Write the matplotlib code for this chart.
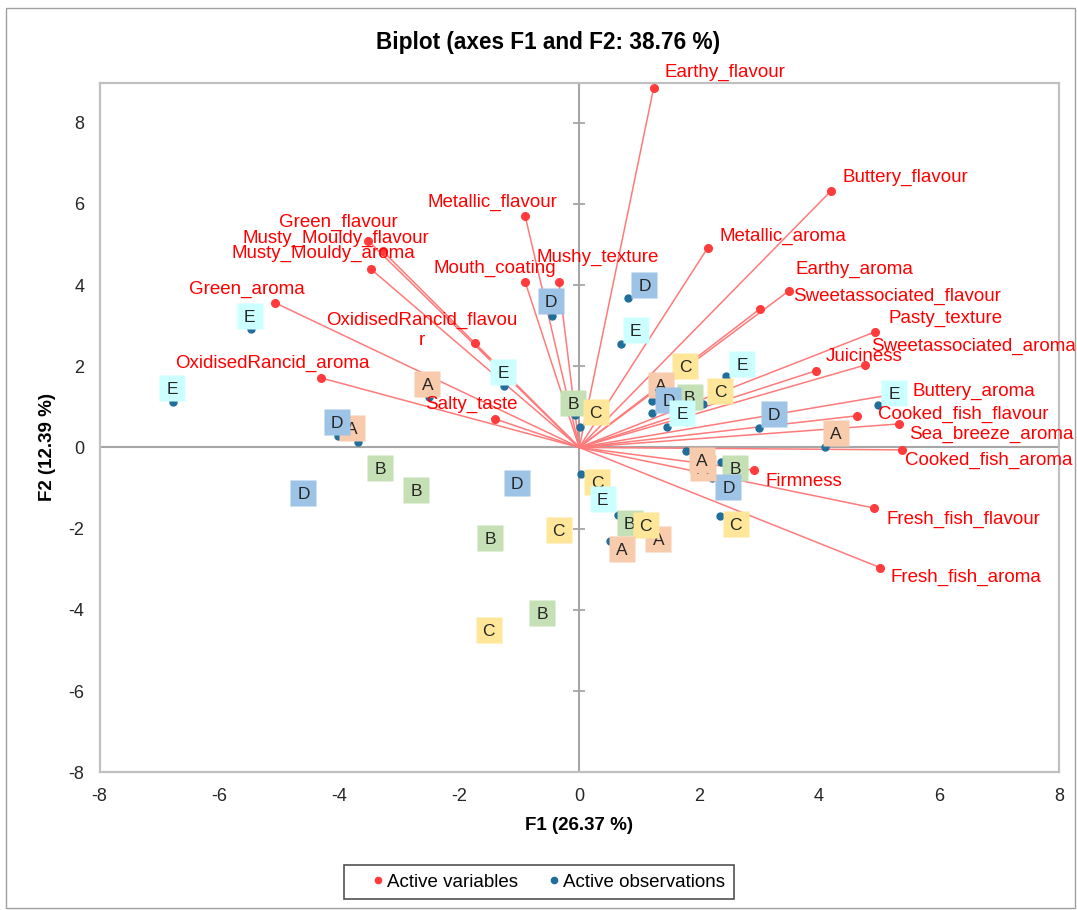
import matplotlib
matplotlib.use("Agg")
from matplotlib import pyplot as plt
from matplotlib.transforms import offset_copy
from matplotlib.patches import Rectangle
from matplotlib.lines import Line2D

plt.rcParams['font.family'] = ['Liberation Sans', 'DejaVu Sans']
plt.rcParams['axes.unicode_minus'] = False

# Active variables (coordinates on F1 / F2)
var_names = [
    "Earthy_flavour", "Buttery_flavour", "Metallic_aroma", "Earthy_aroma",
    "Sweetassociated_flavour", "Pasty_texture", "Sweetassociated_aroma",
    "Juiciness", "Buttery_aroma", "Cooked_fish_flavour", "Sea_breeze_aroma",
    "Cooked_fish_aroma", "Firmness", "Fresh_fish_flavour", "Fresh_fish_aroma",
    "Green_aroma", "OxidisedRancid_aroma", "Green_flavour",
    "Musty_Mouldy_flavour", "Musty_Mouldy_aroma", "OxidisedRancid_flavou\nr",
    "Metallic_flavour", "Mouth_coating", "Mushy_texture", "Salty_taste",
]
var_f1 = [1.24, 4.20, 2.14, 3.02, 3.49, 4.94, 4.77, 3.95, 5.29, 4.63, 5.34,
          5.38, 2.92, 4.91, 5.02, -5.07, -4.30, -3.52, -3.28, -3.48, -1.74,
          -0.90, -0.90, -0.34, -1.40]
var_f2 = [8.85, 6.32, 4.91, 3.42, 3.85, 2.85, 2.03, 1.89, 1.32, 0.78, 0.58,
          -0.06, -0.56, -1.49, -2.96, 3.56, 1.71, 5.09, 4.84, 4.40, 2.56,
          5.69, 4.07, 4.07, 0.70]

# label placement for the variables (pixels from the point)
var_dx = [11, 11, 12, 35, 5, 13, 6, 10, 16, 21, 10, 3, 11, 13, 10,
          30, 48, 30, 47, 45, -53, 32, 31, -22, 22]
var_dy = [16, 13, 12, 39, -5, 13, 19, 14, 2, 1, -11, -11, -11, -11, -10,
          13, 15, 18, 13, 15, 13, 14, 14, 25, 15]
var_ha = ["left"] * 15 + ["right"] * 5 + ["center", "right", "right",
                                           "left", "right"]

# Active observations (drawing order matters for the overlapping labels)
obs_labels = ["E", "E", "A", "D", "A", "E", "D", "B", "C", "D",
              "E", "B", "B", "D", "B", "D", "C", "C", "B", "C",
              "E", "B", "A", "C", "A", "C", "B", "D", "A", "A",
              "A", "D", "E", "E", "C", "C", "A", "B", "D", "E"]
obs_f1 = [-5.48, -6.77, -3.69, -4.03, -2.50, -1.25, -0.45, -0.07, 0.01, 0.82,
          0.69, -3.32, -2.72, -4.60, -1.49, -1.04, -0.34, -1.51, -0.62, 0.03,
          0.39, 0.64, 1.32, 1.11, 0.51, 2.34, 2.37, 2.22, 2.06, 1.78,
          4.09, 2.99, 4.99, 2.45, 2.07, 1.52, 1.21, 1.59, 1.22, 1.47]
obs_f2 = [2.92, 1.13, 0.14, 0.29, 1.25, 1.52, 3.24, 0.79, 0.51, 3.67,
          2.54, -0.51, -1.05, -1.12, -2.23, -0.88, -2.03, -4.50, -4.08, -0.65,
          -1.27, -1.66, -2.26, -1.91, -2.31, -1.69, -0.35, -0.75, -0.51, -0.08,
          0.02, 0.47, 1.04, 1.77, 1.07, 1.73, 1.15, 0.92, 0.85, 0.50]
obs_dx = [-1, -1, -6, -1, -2, -1, -1, -2, 16, 16,
          15, 0, 0, 0, 0, 0, 0, 0, 0, 16,
          0, 12, 0, 0, 12, 16, 14, 16, 0, 16,
          11, 15, 16, 16, 17, 15, 9, 15, 16, 15]
obs_dy = [13, 14, 14, 14, 13, 14, 15, 12, 15, 13,
          14, 0, 0, 0, 0, 0, 0, 0, 0, -8,
          0, -8, 0, 0, -8, -8, -6, -9, 0, -9,
          14, 14, 12, 12, 13, 11, 16, 13, 13, 14]

OBS_COLORS = {"A": "#F8CBAD", "B": "#C5E0B4", "C": "#FFE699",
              "D": "#9DC3E6", "E": "#CCFFFF"}
VAR_COLOR = "#FF3B3B"
LINE_COLOR = "#FF7A7A"
OBS_COLOR = "#1F6E9B"
GRID_GREY = "#A6A6A6"

W, H = 1077, 910
fig = plt.figure(figsize=(W / 100, H / 100), dpi=100)
ax = fig.add_axes([99.5 / W, (H - 772.3) / H, (1059 - 99.5) / W,
                   (772.3 - 83) / H])
ax.set_xlim(-8, 8)
ax.set_ylim(-8, 8.975)

ticks = list(range(-8, 9, 2))
ax.set_xticks(ticks)
ax.set_yticks(ticks)
ax.tick_params(length=0, labelsize=13, pad=11, colors="#262626")
for sp in ax.spines.values():
    sp.set_color("#C0C0C0")
    sp.set_linewidth(1.6)

# zero axes, the vertical one carries small cross ticks
ax.axhline(0, color=GRID_GREY, lw=1.5, zorder=1)
ax.axvline(0, color=GRID_GREY, lw=1.5, zorder=1)
ax.plot([0] * len(ticks), ticks, ls="none", marker="_", ms=8, mew=1.3,
        color=GRID_GREY, zorder=1)

# variable vectors
for x, y in zip(var_f1, var_f2):
    ax.plot([0, x], [0, y], color=LINE_COLOR, lw=1.1, zorder=2)
ax.plot(var_f1, var_f2, ls="none", marker="o", ms=5.5, color=VAR_COLOR,
        zorder=2.5)
for name, x, y, dx, dy, ha in zip(var_names, var_f1, var_f2, var_dx,
                                  var_dy, var_ha):
    ax.annotate(name, (x, y), xytext=(dx, dy), textcoords="offset pixels",
                ha=ha, va="center", fontsize=13.5, color="#FF0000",
                multialignment="center", zorder=6)

# observations
ax.plot(obs_f1, obs_f2, ls="none", marker="o", ms=5, color=OBS_COLOR,
        zorder=3)
for i, (lab, x, y, dx, dy) in enumerate(zip(obs_labels, obs_f1, obs_f2,
                                            obs_dx, obs_dy)):
    tr = offset_copy(ax.transData, fig=fig, x=dx, y=dy, units="dots")
    z = 4 + i * 0.01
    ax.plot([x], [y], ls="none", marker="s", ms=19, mfc=OBS_COLORS[lab],
            mec="none", transform=tr, zorder=z)
    ax.text(x, y, lab, transform=tr, ha="center", va="center_baseline",
            fontsize=12.5, color="#262626", zorder=z + 0.005)

fig.text(548 / W, 1 - 42 / H, "Biplot (axes F1 and F2: 38.76 %)",
         ha="center", va="center", fontsize=16.3, fontweight="bold")
fig.text(579 / W, 1 - 826 / H, "F1 (26.37 %)", ha="center", va="center",
         fontsize=13.5, fontweight="bold")
fig.text(47 / W, 1 - 447 / H, "F2 (12.39 %)", ha="center", va="center",
         rotation=90, fontsize=13.5, fontweight="bold")

handles = [
    Line2D([], [], ls="none", marker="o", ms=4.5, color=VAR_COLOR),
    Line2D([], [], ls="none", marker="o", ms=4.5, color=OBS_COLOR),
]
leg = fig.legend(handles, ["Active variables", "Active observations"],
                 loc="center left", bbox_to_anchor=(344 / W, 1 - 882 / H),
                 ncol=2, fontsize=13.5, frameon=True, fancybox=False,
                 edgecolor="#262626", handlelength=2.7, handletextpad=-0.85,
                 columnspacing=0.55, borderpad=0.45, borderaxespad=0)
leg.get_frame().set_linewidth(1.2)

# outer border of the chart area
fig.patches.append(Rectangle((6 / W, 2 / H), (W - 8) / W, (H - 10) / H,
                             transform=fig.transFigure, fill=False,
                             edgecolor="#A0A0A0", lw=1))

fig.savefig("out.png", dpi=100)
